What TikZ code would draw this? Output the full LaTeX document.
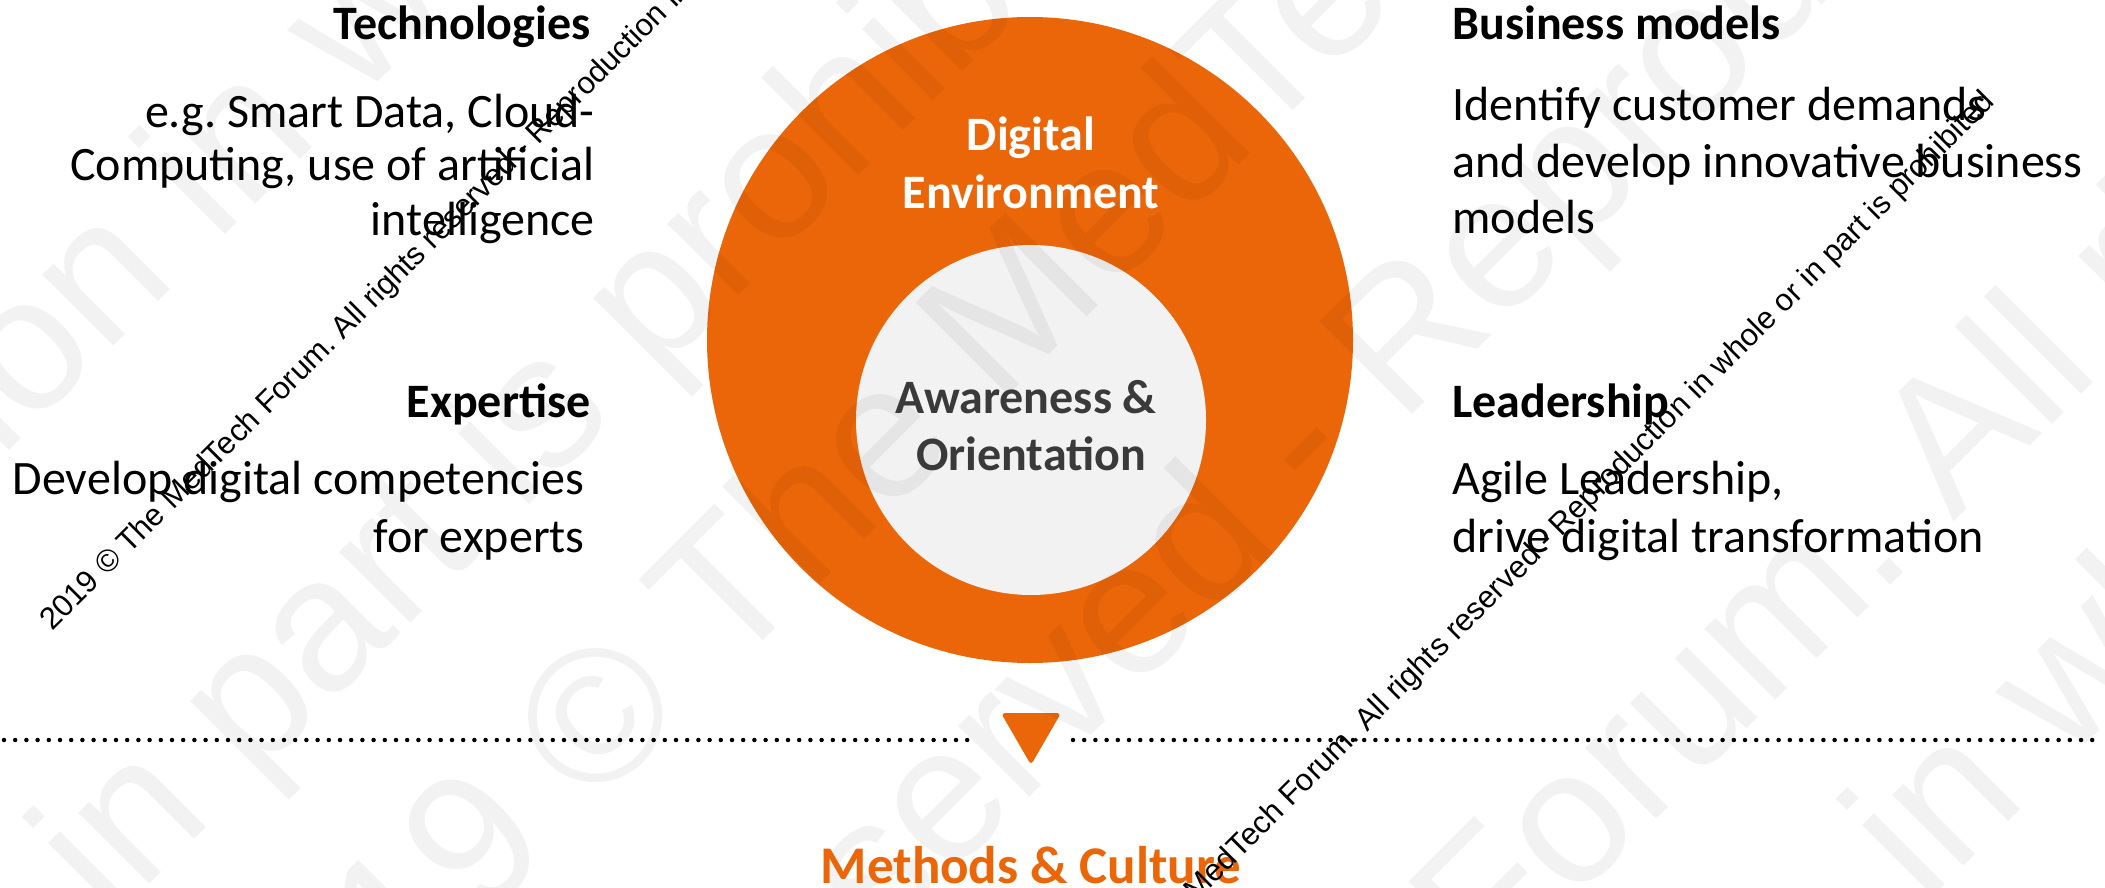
\documentclass[tikz,border=0pt]{standalone}
\usepackage{fontspec}
\setmainfont{Carlito}
\newfontfamily\wmfont{Liberation Sans}
\definecolor{mtorange}{HTML}{EB6608}
\definecolor{innergray}{HTML}{F2F2F2}
\definecolor{darktext}{HTML}{3A3A3A}
\frenchspacing
\begin{document}
\begin{tikzpicture}[x=0.5pt,y=-0.5pt,
  title/.style={font=\fontsize{24pt}{29pt}\selectfont\bfseries, inner sep=0pt, text=black},
  body/.style={font=\fontsize{24pt}{29pt}\selectfont, inner sep=0pt, text=black},
  ringtext/.style={font=\fontsize{24pt}{29pt}\selectfont\bfseries, inner sep=0pt},
  wm/.style={font=\wmfont\fontsize{15.5pt}{18pt}\selectfont, inner sep=0pt, text=black, rotate=45},
  bigwm/.style={font=\wmfont\fontsize{95pt}{100pt}\selectfont, inner sep=0pt, text=black, text opacity=0.05, rotate=45, anchor=base west},
  dotline/.style={line width=2.25pt, line cap=round, dash pattern=on 0pt off 5.6pt}]
\useasboundingbox (0,0) rectangle (2105,888);
\clip (0,0) rectangle (2105,888);
\fill[white] (0,0) rectangle (2105,888);

% circles
\node[circle, fill=mtorange, minimum size=323pt, inner sep=0pt] (outer) at (1030,340) {};
\node[circle, fill=innergray, minimum size=175pt, inner sep=0pt] (inner) at (1031,420) {};

% dotted line and triangle
\coordinate (dA) at (4,740);
\coordinate (dB) at (976,740);
\coordinate (dC) at (1073,740);
\coordinate (dD) at (2103,740);
\draw[dotline] (dA) -- (dB);
\draw[dotline] (dC) -- (dD);
\fill[mtorange, rounded corners=2pt] (1001,713) -- (1061,713) -- (1031,765) -- cycle;

% faint background watermark
\node[bigwm] (bw1) at (-620,1080) {Reproduction in whole or in part};
\node[bigwm] (bw2) at (-435,1469) {whole or in part is prohibited};
\node[bigwm] (bw3) at (256,1148) {2019 © The MedTech Forum. All rights};
\node[bigwm] (bw4) at (207,1620) {All rights reserved - Reproduction in whole};
\node[bigwm] (bw5) at (908,1568) {MedTech Forum. All rights reserved};
\node[bigwm] (bw6) at (1088,1742) {Reproduction in whole or};

% ring texts
\node[ringtext, text=white, anchor=base] (dig) at (1031,151) {Digital};
\node[ringtext, text=white, anchor=base] (env) at (1031,208) {Environment};
\node[ringtext, text=darktext, anchor=base] (aw) at (1026,413) {Awareness \&};
\node[ringtext, text=darktext, anchor=base] (ori) at (1031,470) {Orientation};

% left block
\node[title, anchor=base east] (tech) at (591,40) {Technologies};
\node[body, anchor=base east] (t1) at (595,127) {e.g. Smart Data, Cloud-};
\node[body, anchor=base east] (t2) at (595,181) {Computing, use of artificial};
\node[body, anchor=base east] (t3) at (595,235) {intelligence};
\node[title, anchor=base east] (exp) at (591,417) {Expertise};
\node[body, anchor=base east] (e1) at (585,494) {Develop digital competencies};
\node[body, anchor=base east] (e2) at (585,552) {for experts};

% right block
\node[title, anchor=base west] (bus) at (1452,40) {Business models};
\node[body, anchor=base west] (b1) at (1452,121) {Identify customer demands};
\node[body, anchor=base west] (b2) at (1452,177) {and develop innovative business};
\node[body, anchor=base west] (b3) at (1452,233) {models};
\node[title, anchor=base west] (lead) at (1452,417) {Leadership};
\node[body, anchor=base west] (l1) at (1452,494) {Agile Leadership,};
\node[body, anchor=base west] (l2) at (1452,552) {drive digital transformation};

\node[font=\fontsize{26.5pt}{32pt}\selectfont\bfseries, text=mtorange, inner sep=0pt, anchor=base] (meth) at (1031,883) {Methods \& Culture};

% watermark
\node[wm, anchor=base west] (wm1) at (52,632) {2019 © The MedTech Forum. All rights reserved - Reproduction in whole or in part is prohibited};
\node[wm, anchor=base east] (wm2) at (1996,103) {2019 © The MedTech Forum. All rights reserved - Reproduction in whole or in part is prohibited};
\end{tikzpicture}
\end{document}
